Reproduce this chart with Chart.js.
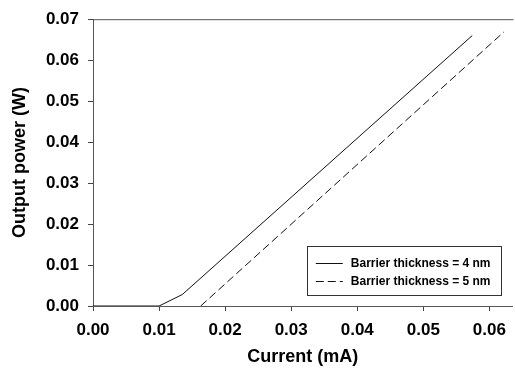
<!DOCTYPE html>
<html>
<head>
<meta charset="utf-8">
<script src="https://cdn.jsdelivr.net/npm/chart.js@4/dist/chart.umd.min.js"></script>
<style>
  html, body { margin: 0; padding: 0; background: #fff; }
  #wrap { width: 515px; height: 368px; position: relative; }
</style>
</head>
<body>
<div id="wrap"><canvas id="c" width="515" height="368"></canvas></div>
<script>
// ---- data ----
const seriesLabels = ["Barrier thickness = 4 nm", "Barrier thickness = 5 nm"];
const current4nm = [0.0, 0.0100, 0.01352, 0.0574];
const power4nm   = [0.0, 0.0,    0.0028,  0.0660];
const current5nm = [0.0163, 0.0622];
const power5nm   = [0.0,    0.0669];
const xTicks = [0.00, 0.01, 0.02, 0.03, 0.04, 0.05, 0.06];
const yTicks = [0.00, 0.01, 0.02, 0.03, 0.04, 0.05, 0.06, 0.07];
const xTitle = "Current (mA)";
const yTitle = "Output power (W)";

const FONT = "'Liberation Sans', Arial, Helvetica, sans-serif";
const toPts = (xs, ys) => xs.map((x, i) => ({ x: x, y: ys[i] }));

const framePlugin = {
  id: 'frame',
  afterDatasetsDraw(chart) {
    const { ctx, chartArea: a } = chart;
    ctx.save();
    ctx.strokeStyle = '#555';
    ctx.lineWidth = 1;
    ctx.beginPath();
    ctx.moveTo(a.left, a.top + 0.5);
    ctx.lineTo(a.right + 1, a.top + 0.5);
    ctx.stroke();
    ctx.restore();
  }
};

const legendPlugin = {
  id: 'boxLegend',
  afterDraw(chart) {
    const { ctx } = chart;
    const xs = chart.scales.x, ys = chart.scales.y;
    const bx = xs.getPixelForValue(0.03236), bx2 = xs.getPixelForValue(0.06168);
    const by = ys.getPixelForValue(0.01455), by2 = ys.getPixelForValue(0.00271);
    ctx.save();
    ctx.strokeStyle = '#333';
    ctx.lineWidth = 1;
    ctx.strokeRect(Math.round(bx) + 0.5, Math.round(by) + 0.5, Math.round(bx2 - bx), Math.round(by2 - by));
    ctx.font = "bold 12px " + FONT;
    ctx.fillStyle = '#000';
    ctx.textBaseline = 'middle';
    chart.data.datasets.forEach((ds, i) => {
      const yy = Math.round(by + 16.5 + i * 18.5) + 0.5;
      ctx.beginPath();
      ctx.setLineDash(ds.borderDash || []);
      ctx.strokeStyle = ds.borderColor;
      ctx.lineWidth = 1;
      ctx.moveTo(bx + 9, yy);
      ctx.lineTo(bx + 36, yy);
      ctx.stroke();
      ctx.setLineDash([]);
      ctx.fillText(ds.label, bx + 44, yy);
    });
    ctx.restore();
  }
};

new Chart(document.getElementById('c'), {
  type: 'scatter',
  data: {
    datasets: [
      {
        label: seriesLabels[0],
        data: toPts(current4nm, power4nm),
        showLine: true,
        borderColor: '#111',
        borderWidth: 1,
        pointRadius: 0,
        fill: false,
        tension: 0
      },
      {
        label: seriesLabels[1],
        data: toPts(current5nm, power5nm),
        showLine: true,
        borderColor: '#111',
        borderWidth: 1,
        borderDash: [8, 4],
        pointRadius: 0,
        fill: false,
        tension: 0
      }
    ]
  },
  options: {
    responsive: false,
    animation: false,
    devicePixelRatio: 1,
    layout: { padding: { top: 12, right: 1, left: 0, bottom: 0 } },
    plugins: { legend: { display: false }, tooltip: { enabled: false } },
    scales: {
      x: {
        type: 'linear',
        min: 0,
        max: 0.0635,
        afterFit(s) { s.height = 62; },
        afterBuildTicks(s) { s.ticks = xTicks.map(v => ({ value: v })); },
        ticks: {
          callback: v => v.toFixed(2),
          font: { family: FONT, size: 17, weight: 'bold' },
          color: '#000',
          padding: 9,
          maxRotation: 0
        },
        grid: { drawOnChartArea: false, drawTicks: true, tickLength: 5, color: '#444' },
        border: { display: true, color: '#555', width: 1 },
        title: {
          display: true,
          text: xTitle,
          font: { family: FONT, size: 18, weight: 'bold' },
          color: '#000',
          padding: { top: 0, bottom: 0 }
        }
      },
      y: {
        type: 'linear',
        min: 0,
        max: 0.07,
        afterFit(s) { s.width = 93; },
        afterBuildTicks(s) { s.ticks = yTicks.map(v => ({ value: v })); },
        ticks: {
          callback: v => v.toFixed(2),
          font: { family: FONT, size: 17, weight: 'bold' },
          color: '#000',
          padding: 9
        },
        grid: { drawOnChartArea: false, drawTicks: true, tickLength: 5, color: '#444' },
        border: { display: true, color: '#555', width: 1 },
        title: {
          display: true,
          text: yTitle,
          font: { family: FONT, size: 18, weight: 'bold' },
          color: '#000',
          padding: { top: 9, bottom: 0 }
        }
      }
    }
  },
  plugins: [framePlugin, legendPlugin]
});
</script>
</body>
</html>
